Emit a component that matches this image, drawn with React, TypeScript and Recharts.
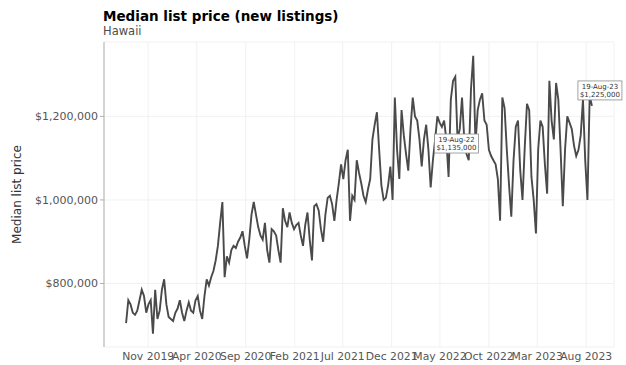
import { LineChart, Line, XAxis, YAxis, CartesianGrid, ReferenceDot } from "recharts"

// weekly series, first week ending 24-Aug-2019, last 19-Aug-2023
const startDate = "2019-08-24"
const prices = [
  705000, 760000, 750000, 730000, 725000, 735000, 760000, 785000, 770000, 730000,
  750000, 760000, 680000, 785000, 715000, 735000, 785000, 810000, 750000, 720000,
  715000, 710000, 730000, 740000, 760000, 730000, 710000, 735000, 755000, 735000,
  730000, 760000, 770000, 735000, 715000, 770000, 810000, 795000, 815000, 830000,
  855000, 890000, 945000, 995000, 815000, 865000, 850000, 880000, 890000, 885000,
  900000, 910000, 925000, 890000, 860000, 905000, 965000, 995000, 965000, 935000,
  915000, 905000, 945000, 880000, 850000, 930000, 925000, 915000, 880000, 850000,
  980000, 950000, 935000, 970000, 945000, 930000, 940000, 945000, 915000, 890000,
  940000, 970000, 905000, 855000, 985000, 990000, 975000, 930000, 900000, 965000,
  1005000, 1010000, 990000, 950000, 1000000, 1040000, 1085000, 1050000, 1095000, 1120000,
  950000, 1010000, 1000000, 1095000, 1065000, 1040000, 1010000, 995000, 1025000, 1050000,
  1145000, 1180000, 1210000, 1120000, 1035000, 1000000, 1005000, 1035000, 1080000, 1000000,
  1245000, 1120000, 1050000, 1215000, 1155000, 1110000, 1070000, 1170000, 1245000, 1200000,
  1190000, 1145000, 1080000, 1145000, 1180000, 1120000, 1030000, 1095000, 1145000, 1200000,
  1185000, 1175000, 1190000, 1145000, 1055000, 1240000, 1285000, 1295000, 1145000, 1170000,
  1245000, 1145000, 1110000, 1095000, 1265000, 1345000, 1135000, 1215000, 1240000, 1255000,
  1190000, 1180000, 1120000, 1105000, 1095000, 1085000, 1050000, 950000, 1245000, 1220000,
  1120000, 1035000, 960000, 1095000, 1175000, 1190000, 1070000, 1000000, 1125000, 1230000,
  1215000, 1055000, 1000000, 920000, 1120000, 1190000, 1175000, 1085000, 1015000, 1285000,
  1190000, 1145000, 1280000, 1240000, 1120000, 985000, 1120000, 1200000, 1185000, 1170000,
  1130000, 1105000, 1120000, 1155000, 1240000, 1095000, 1000000, 1250000, 1225000,
]

const tickDates = [
  "2019-11-01", "2020-04-01", "2020-09-01", "2021-02-01", "2021-07-01",
  "2021-12-01", "2022-05-01", "2022-10-01", "2023-03-01", "2023-08-01",
]
const yTicks = [800000, 1000000, 1200000]

const annotations = [
  { label: "19-Aug-22", index: 156 },
  { label: "19-Aug-23", index: 208 },
]

const DAY = 86400000
const t0 = Date.parse(startDate)
const data = prices.map((p, i) => ({ t: t0 + i * 7 * DAY, price: p }))
const xTicks = tickDates.map((d) => Date.parse(d))
const months = ["Jan", "Feb", "Mar", "Apr", "May", "Jun", "Jul", "Aug", "Sep", "Oct", "Nov", "Dec"]

const fmtDate = (v: number) => {
  const d = new Date(v)
  return months[d.getUTCMonth()] + " " + d.getUTCFullYear()
}
const fmtMoney = (v: number) => "$" + v.toLocaleString("en-US")

const font = "DejaVu Sans, sans-serif"

function AnnoBox({ cx, cy, label, value, side }: any) {
  const w = 44
  const h = 19
  const x = side === "left" ? cx - w + 3 : cx - 14
  const y = side === "left" ? cy - h / 2 : cy - h - 6
  return (
    <g>
      <rect x={x} y={y} width={w} height={h} fill="#fff" stroke="#8c8c8c" strokeWidth={0.8} />
      <text x={x + w / 2} y={y + 8} textAnchor="middle" fontSize={7} fontFamily={font} fill="#333">
        {label}
      </text>
      <text x={x + w / 2} y={y + 16} textAnchor="middle" fontSize={7} fontFamily={font} fill="#333">
        {fmtMoney(value)}
      </text>
    </g>
  )
}

export default function App() {
  const first = data[0].t
  const last = data[data.length - 1].t

  return (
    <div style={{ position: "absolute", left: 0, top: 0, width: 626, height: 365, background: "#fff" }}>
      <svg width={626} height={50} style={{ position: "absolute", left: 0, top: 0 }}>
        <text x={103} y={21} fontSize={13.5} fontWeight="bold" fontFamily={font} fill="#000">
          Median list price (new listings)
        </text>
        <text x={103} y={35} fontSize={11.5} fontFamily={font} fill="#4d4d4d">
          Hawaii
        </text>
      </svg>

      <LineChart
        width={626}
        height={365}
        data={data}
        margin={{ top: 42, right: 12, bottom: 0, left: 0 }}
        style={{ position: "absolute", left: 0, top: 0 }}
      >
        <CartesianGrid stroke="#ededed" strokeWidth={0.8} />
        <XAxis
          dataKey="t"
          type="number"
          domain={[first - 69 * DAY, last + 69 * DAY]}
          ticks={xTicks}
          tickFormatter={fmtDate}
          axisLine={false}
          tickLine={false}
          tickSize={3}
          height={18}
          interval={0}
          tick={{ fontSize: 10.8, fontFamily: font, fill: "#555" }}
        />
        <YAxis
          type="number"
          domain={[648000, 1378000]}
          ticks={yTicks}
          tickFormatter={fmtMoney}
          width={104}
          axisLine={{ stroke: "#c8c8c8", strokeWidth: 1.5 }}
          tickLine={{ stroke: "#b0b0b0" }}
          tickSize={4}
          tick={{ fontSize: 11, fontFamily: font, fill: "#555" }}
          label={{
            value: "Median list price",
            angle: -90,
            position: "insideLeft",
            offset: 17,
            style: { fontSize: 12, fontFamily: font, fill: "#333", textAnchor: "middle" },
          }}
        />
        <Line
          type="linear"
          dataKey="price"
          stroke="#4a4a4a"
          strokeWidth={1.9}
          dot={false}
          isAnimationActive={false}
        />
        {annotations.map((a, i) => (
          <ReferenceDot
            key={a.label}
            x={data[a.index].t}
            y={data[a.index].price}
            r={2}
            ifOverflow="visible"
            shape={(p: any) => (
              <AnnoBox
                cx={p.cx}
                cy={p.cy}
                label={a.label}
                value={data[a.index].price}
                side={i === 0 ? "left" : "above"}
              />
            )}
          />
        ))}
      </LineChart>
    </div>
  )
}
